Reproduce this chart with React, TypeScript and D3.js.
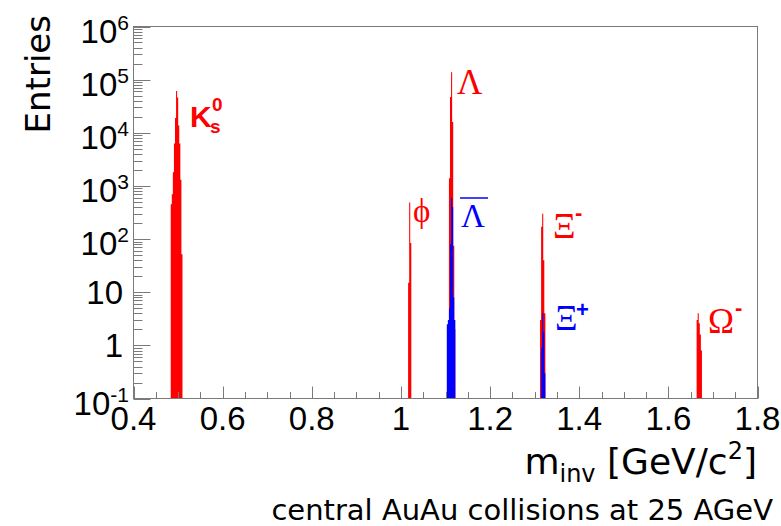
import React, { useEffect, useRef } from "react";
import * as d3 from "d3";

// histogram bins (GeV/c^2), common bin width
const binWidth = 0.0024;

// K0s -> red
const k0Start = 0.4835;
const k0Counts = [450, 700, 1800, 6300, 19000, 61000, 46000, 13700, 6300, 1300, 52];

// phi -> red
const phiStart = 1.0161;
const phiCounts = [15, 490, 84];

// Lambda -> red
const lambdaStart = 1.1053;
const lambdaCounts = [2, 1400, 47000, 138000, 16000, 75, 2];

// anti-Lambda -> blue
const antiLambdaStart = 1.1029;
const antiLambdaCounts = [2.5, 3, 5, 80, 600, 400, 8, 3];

// Xi- -> red
const xiStart = 1.3121;
const xiCounts = [3, 170, 300, 40, 4];

// anti-Xi+ -> blue
const antiXiStart = 1.3145;
const antiXiCounts = [0.9, 4, 1.8, 0.3];

// Omega- -> red
const omegaStart = 1.6634;
const omegaCounts = [3, 4, 2.6, 1.6, 0.8];

// axes
const xMajorTicks = [0.4, 0.6, 0.8, 1.0, 1.2, 1.4, 1.6, 1.8];
const xTickLabels = ["0.4", "0.6", "0.8", "1", "1.2", "1.4", "1.6", "1.8"];
const yMajorTicks = [0.1, 1, 10, 100, 1e3, 1e4, 1e5, 1e6];
const yTickLabels = [
  ["10", "-1"],
  ["1", ""],
  ["10", ""],
  ["10", "2"],
  ["10", "3"],
  ["10", "4"],
  ["10", "5"],
  ["10", "6"],
];

const RED = "#ff0000";
const BLUE = "#0000ff";

const App = () => {
  const svgRef = useRef<SVGSVGElement>(null);

  useEffect(() => {
    const W = 781;
    const H = 526;
    const left = 133.5;
    const right = 757.5;
    const top = 26.5;
    const bottom = 398.5;

    const svg = d3.select(svgRef.current);
    svg.selectAll("*").remove();
    svg.attr("width", W).attr("height", H);

    const x = d3.scaleLinear().domain([0.4, 1.8]).range([left, right]);
    const y = d3.scaleLog().domain([0.1, 1e6]).range([bottom, top]);
    const ymin = 0.1;

    svg
      .append("defs")
      .append("clipPath")
      .attr("id", "plot")
      .append("rect")
      .attr("x", left)
      .attr("y", top)
      .attr("width", right - left)
      .attr("height", bottom - top);

    const hists = [
      { start: k0Start, counts: k0Counts, color: RED },
      { start: phiStart, counts: phiCounts, color: RED },
      { start: lambdaStart, counts: lambdaCounts, color: RED },
      { start: xiStart, counts: xiCounts, color: RED },
      { start: omegaStart, counts: omegaCounts, color: RED },
      { start: antiLambdaStart, counts: antiLambdaCounts, color: BLUE },
      { start: antiXiStart, counts: antiXiCounts, color: BLUE },
    ];

    const area = d3
      .area<{ m: number; c: number }>()
      .x((d) => x(d.m))
      .y0(y(ymin))
      .y1((d) => y(Math.max(d.c, ymin)))
      .curve(d3.curveStepAfter);

    const g = svg.append("g").attr("clip-path", "url(#plot)");
    hists.forEach((h) => {
      const pts = h.counts.map((c, i) => ({ m: h.start + i * binWidth, c }));
      pts.push({ m: h.start + h.counts.length * binWidth, c: h.counts[h.counts.length - 1] });
      g.append("path").attr("d", area(pts)).attr("fill", h.color);
    });

    const axisColor = "#7a7a7a";

    // frame
    svg
      .append("rect")
      .attr("x", left)
      .attr("y", top)
      .attr("width", right - left)
      .attr("height", bottom - top)
      .attr("fill", "none")
      .attr("stroke", axisColor)
      .attr("stroke-width", 1);

    // x ticks
    const xMinor = d3.range(0, 29).map((i) => 0.4 + i * 0.05);
    svg
      .append("g")
      .selectAll("line")
      .data(xMinor)
      .enter()
      .append("line")
      .attr("x1", (d) => Math.round(x(d)) + 0.5)
      .attr("x2", (d) => Math.round(x(d)) + 0.5)
      .attr("y1", bottom)
      .attr("y2", (d, i) => (i % 4 === 0 ? bottom - 12 : bottom - 6.5))
      .attr("stroke", axisColor);

    svg
      .append("g")
      .selectAll("text")
      .data(xMajorTicks)
      .enter()
      .append("text")
      .attr("x", (d) => x(d))
      .attr("y", 430)
      .attr("text-anchor", "middle")
      .attr("font-family", "'Liberation Sans', Arial, sans-serif")
      .attr("font-size", 33)
      .attr("fill", "#000")
      .text((d, i) => xTickLabels[i]);

    // y ticks
    const yMinor: number[] = [];
    for (let e = -1; e < 6; e++) {
      for (let k = 2; k <= 9; k++) yMinor.push(k * Math.pow(10, e));
    }
    svg
      .append("g")
      .selectAll("line")
      .data(yMinor)
      .enter()
      .append("line")
      .attr("x1", left)
      .attr("x2", left + 9)
      .attr("y1", (d) => Math.round(y(d)) + 0.5)
      .attr("y2", (d) => Math.round(y(d)) + 0.5)
      .attr("stroke", axisColor);
    svg
      .append("g")
      .selectAll("line")
      .data(yMajorTicks)
      .enter()
      .append("line")
      .attr("x1", left)
      .attr("x2", left + 17)
      .attr("y1", (d) => Math.round(y(d)) + 0.5)
      .attr("y2", (d) => Math.round(y(d)) + 0.5)
      .attr("stroke", axisColor);

    const yl = svg
      .append("g")
      .attr("font-family", "'Liberation Sans', Arial, sans-serif")
      .attr("fill", "#000");
    yMajorTicks.forEach((v, i) => {
      const [base, exp] = yTickLabels[i];
      const t = yl
        .append("text")
        .attr("text-anchor", "end")
        .attr("font-size", 33);
      if (exp) {
        t.attr("x", 129).attr("y", y(v) + 16);
        t.append("tspan").text(base);
        t.append("tspan").attr("dy", -13).attr("font-size", 21).text(exp);
      } else {
        t.attr("x", 123).attr("y", y(v) + 12).text(base);
      }
    });

    // axis titles
    svg
      .append("text")
      .attr("transform", "translate(50,15) rotate(-90)")
      .attr("text-anchor", "end")
      .attr("font-family", "'DejaVu Sans', Verdana, sans-serif")
      .attr("font-size", 34)
      .attr("fill", "#000")
      .text("Entries");

    const xt = svg
      .append("text")
      .attr("x", 757)
      .attr("y", 474)
      .attr("text-anchor", "end")
      .attr("font-family", "'DejaVu Sans', Verdana, sans-serif")
      .attr("font-size", 36)
      .attr("fill", "#000");
    xt.append("tspan").text("m");
    xt.append("tspan").attr("font-size", 24).attr("dy", 8).text("inv");
    xt.append("tspan").attr("dy", -8).text(" [GeV/c");
    xt.append("tspan").attr("font-size", 24).attr("dy", -15).text("2");
    xt.append("tspan").attr("dy", 15).text("]");

    svg
      .append("text")
      .attr("x", 773)
      .attr("y", 520)
      .attr("text-anchor", "end")
      .attr("font-family", "'DejaVu Sans', Verdana, sans-serif")
      .attr("font-size", 29)
      .attr("fill", "#000")
      .text("central AuAu collisions at 25 AGeV");

    // particle labels
    const serif = "'Liberation Serif', 'Times New Roman', serif";
    const sansB = "'Liberation Sans', Arial, sans-serif";
    const lab = svg.append("g");
    const addText = (tx: number, ty: number, s: string, size: number, color: string, family: string, bold = false) =>
      lab
        .append("text")
        .attr("x", tx)
        .attr("y", ty)
        .attr("font-family", family)
        .attr("font-size", size)
        .attr("font-weight", bold ? "bold" : "normal")
        .attr("fill", color)
        .text(s);

    addText(190, 127, "K", 30, RED, sansB, true);
    addText(212, 111, "0", 19, RED, sansB, true);
    addText(210, 133, "s", 19, RED, sansB, true);

    addText(457, 94, "Λ", 35, RED, serif);
    addText(413, 222, "ϕ", 33, RED, serif);

    addText(461, 227, "Λ", 33, BLUE, serif);
    lab
      .append("line")
      .attr("x1", 460)
      .attr("x2", 488)
      .attr("y1", 198)
      .attr("y2", 198)
      .attr("stroke", BLUE)
      .attr("stroke-width", 1.5);

    addText(553, 238, "Ξ", 35, RED, serif);
    addText(575, 220, "-", 22, RED, sansB, true);

    addText(555, 330, "Ξ", 35, BLUE, serif);
    addText(576, 317, "+", 22, BLUE, sansB, true);

    addText(708, 333, "Ω", 35, RED, serif);
    addText(735, 315, "-", 22, RED, sansB, true);
  }, []);

  return (
    <div style={{ position: "absolute", left: 0, top: 0, background: "#fff" }}>
      <svg ref={svgRef} style={{ display: "block" }}></svg>
    </div>
  );
};

export default App;
